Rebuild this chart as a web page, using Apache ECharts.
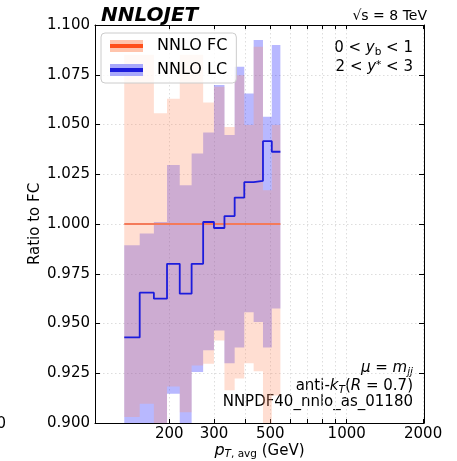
<!DOCTYPE html>
<html><head><meta charset="utf-8">
<script src="https://cdn.jsdelivr.net/npm/echarts@6/dist/echarts.min.js"></script>
<style>html,body{margin:0;padding:0;background:#fff}#c{width:457px;height:461px}</style>
</head><body><div id="c"></div>
<script>
// ---- data ----
const binEdges   = [133,153,174,196,220,245,272,300,330,362,395,430,468,507,548];
const fcCentral  = [1,1,1,1,1,1,1,1,1,1,1,1,1,1];
const fcUpper    = [1.085,1.085,1.0557,1.063,1.085,1.085,1.061,1.069,1.0488,1.0748,1.0497,1.0891,1.017,1.0497];
const fcLower    = [0.903,0.9097,0.895,0.9184,0.9054,0.9289,0.9298,0.9415,0.9165,0.9224,0.930,0.926,0.89,0.9138];
const lcCentral  = [0.943,0.9655,0.9625,0.980,0.965,0.980,1.001,0.998,1.004,1.0133,1.021,1.0217,1.0416,1.0363];
const lcUpper    = [0.9893,0.9952,1.001,1.0296,1.0195,1.0354,1.046,1.0698,1.0447,1.079,1.0656,1.0925,1.0539,1.090];
const lcLower    = [0.895,0.895,0.89,0.9147,0.895,0.9256,0.9365,0.9465,0.930,0.938,0.9557,0.9507,0.938,0.9575];
const xTickValues  = [200,300,400,500,600,700,800,900,1000,2000];
const xLabelValues = [200,300,500,1000,2000];
const seriesNames  = ['NNLO FC','NNLO LC'];

const FONT = 'DejaVu Sans';
const chart = echarts.init(document.getElementById('c'), null, {renderer:'canvas'});

function stepData(central){
  const n = central.length;
  return binEdges.map((e,i)=>[e, central[Math.min(i,n-1)]]);
}
function band(name, lower, upper, fill, z){
  return {
    type:'custom', name, z, silent:true, coordinateSystem:'cartesian2d',
    xAxisIndex:0, yAxisIndex:0,
    data:[[binEdges[0], lower[0]]],
    renderItem(params, api){
      const pts = [];
      for (let i=0;i<upper.length;i++){
        pts.push(api.coord([binEdges[i], upper[i]]), api.coord([binEdges[i+1], upper[i]]));
      }
      for (let i=lower.length-1;i>=0;i--){
        pts.push(api.coord([binEdges[i+1], lower[i]]), api.coord([binEdges[i], lower[i]]));
      }
      const cs = params.coordSys;
      const clipped = echarts.graphic.clipPointsByRect(pts, {x:cs.x, y:cs.y, width:cs.width, height:cs.height});
      return {type:'polygon', shape:{points:clipped}, style:{fill, stroke:null}};
    }
  };
}
function grad(light, dark){
  return {type:'linear', x:0, y:0, x2:0, y2:1, colorStops:[
    {offset:0, color:light},{offset:0.32, color:light},{offset:0.32, color:dark},
    {offset:0.68, color:dark},{offset:0.68, color:light},{offset:1, color:light}]};
}
const sub = (fs, pad) => ({fontSize:fs, fontFamily:FONT, verticalAlign:'bottom', padding:[pad,0,0,0]});
const ital = fs => ({fontSize:fs, fontFamily:FONT, fontStyle:'italic'});

const option = {
  animation:false,
  backgroundColor:'#fff',
  grid:{left:95, right:33, top:25, bottom:38, containLabel:false, outerBoundsMode:'none'},
  xAxis:[
    {type:'log', logBase:10, min:102, max:2016, position:'bottom',
     axisLine:{show:true, onZero:false, lineStyle:{color:'#000', width:1}},
     axisTick:{show:true, inside:true, length:4, customValues:xTickValues, lineStyle:{color:'#000'}},
     axisLabel:{customValues:xLabelValues, fontFamily:FONT, fontSize:15, color:'#000', margin:4, formatter:v=>String(Math.round(v))},
     minorTick:{show:false},
     splitLine:{show:true, lineStyle:{type:[1.5,2.5], color:'#d4d4d4', width:0.8}},
     name:'{i|p}{si|T}{s|, avg} (GeV)', nameLocation:'middle', nameGap:19, nameMoveOverlap:false,
     nameTextStyle:{fontFamily:FONT, fontSize:15, lineHeight:18, color:'#000',
       rich:{i:Object.assign(ital(16),{lineHeight:18}), si:Object.assign(sub(10.5,5),{fontStyle:'italic'}), s:sub(10.5,5)}}},
    {type:'log', logBase:10, min:102, max:2016, position:'top',
     axisLine:{show:true, onZero:false, lineStyle:{color:'#000', width:1}},
     axisTick:{show:true, inside:true, length:4, customValues:xTickValues, lineStyle:{color:'#000'}},
     axisLabel:{show:false}, splitLine:{show:false}, minorTick:{show:false}}
  ],
  yAxis:[
    {type:'value', min:0.9, max:1.1, interval:0.025, position:'left',
     axisLine:{show:true, onZero:false, lineStyle:{color:'#000', width:1}},
     axisTick:{show:true, inside:true, length:5, lineStyle:{color:'#000'}},
     axisLabel:{fontFamily:FONT, fontSize:15, color:'#000', margin:5, formatter:v=>v.toFixed(3)},
     splitLine:{show:true, lineStyle:{type:[1.5,2.5], color:'#d4d4d4', width:0.8}},
     name:'Ratio to FC', nameLocation:'middle', nameGap:52, nameMoveOverlap:false,
     nameTextStyle:{fontFamily:FONT, fontSize:15, color:'#000'}},
    {type:'value', min:0.9, max:1.1, interval:0.025, position:'right',
     axisLine:{show:true, onZero:false, lineStyle:{color:'#000', width:1}},
     axisTick:{show:true, inside:true, length:5, lineStyle:{color:'#000'}},
     axisLabel:{show:false}, splitLine:{show:false}}
  ],
  legend:{
    left:101, top:33, orient:'vertical', itemWidth:33, itemHeight:12, itemGap:8,
    padding:[5,9,5,9], backgroundColor:'rgba(255,255,255,0.8)', borderColor:'#cccccc',
    borderWidth:1, borderRadius:4, selectedMode:false,
    textStyle:{fontFamily:FONT, fontSize:16, color:'#000', padding:[0,0,0,9]},
    data:[
      {name:seriesNames[0], icon:'rect', itemStyle:{color:grad('#ffc4ac','#ff4f1a')}},
      {name:seriesNames[1], icon:'rect', itemStyle:{color:grad('#a8a8fb','#1c1cdc')}}
    ]
  },
  series:[
    band('LC band', lcLower, lcUpper, 'rgba(0,0,255,0.28)', 1),
    band('FC band', fcLower, fcUpper, 'rgba(255,145,105,0.3)', 2),
    {type:'line', name:seriesNames[0], z:3, step:'end', showSymbol:false, symbol:'none', silent:true,
     data:stepData(fcCentral), lineStyle:{color:'#f47a5a', width:2}, itemStyle:{color:'#f47a5a'}},
    {type:'line', name:seriesNames[1], z:4, step:'end', showSymbol:false, symbol:'none', silent:true,
     data:stepData(lcCentral), lineStyle:{color:'#1c1cdc', width:1.8}, itemStyle:{color:'#1c1cdc'}}
  ],
  graphic:[
    {type:'text', x:101, y:16, style:{text:'NNLOJET', font:'italic bold 20px "DejaVu Sans"', fill:'#000', align:'left', verticalAlign:'middle'}},
    {type:'text', x:427, y:16, style:{text:'√s = 8 TeV', font:'14px "DejaVu Sans"', fill:'#000', align:'right', verticalAlign:'middle'}},
    {type:'text', x:413, y:48, style:{text:'0 < {i|y}{s|b} < 1', font:'15px "DejaVu Sans"', fill:'#000', align:'right', verticalAlign:'middle',
      rich:{i:ital(15), s:sub(10.5,8)}}},
    {type:'text', x:413, y:67, style:{text:'2 < {i|y}{p|*} < 3', font:'15px "DejaVu Sans"', fill:'#000', align:'right', verticalAlign:'middle',
      rich:{i:ital(15), p:{fontSize:10.5, fontFamily:FONT, verticalAlign:'top'}}}},
    {type:'text', x:413, y:368, style:{text:'{i|μ} = {i|m}{s|jj}', font:'15px "DejaVu Sans"', fill:'#000', align:'right', verticalAlign:'middle',
      rich:{i:ital(15), s:Object.assign(sub(10.5,8),{fontStyle:'italic'})}}},
    {type:'text', x:413, y:386, style:{text:'anti-{i|k}{s|T}({i|R} = 0.7)', font:'15px "DejaVu Sans"', fill:'#000', align:'right', verticalAlign:'middle',
      rich:{i:ital(15), s:Object.assign(sub(10.5,8),{fontStyle:'italic'})}}},
    {type:'text', x:413, y:402, style:{text:'NNPDF40_nnlo_as_01180', font:'15px "DejaVu Sans"', fill:'#000', align:'right', verticalAlign:'middle'}},
    {type:'text', x:6, y:424, style:{text:'0', font:'15px "DejaVu Sans"', fill:'#000', align:'right', verticalAlign:'middle'}}
  ]
};
chart.setOption(option);
</script></body></html>
